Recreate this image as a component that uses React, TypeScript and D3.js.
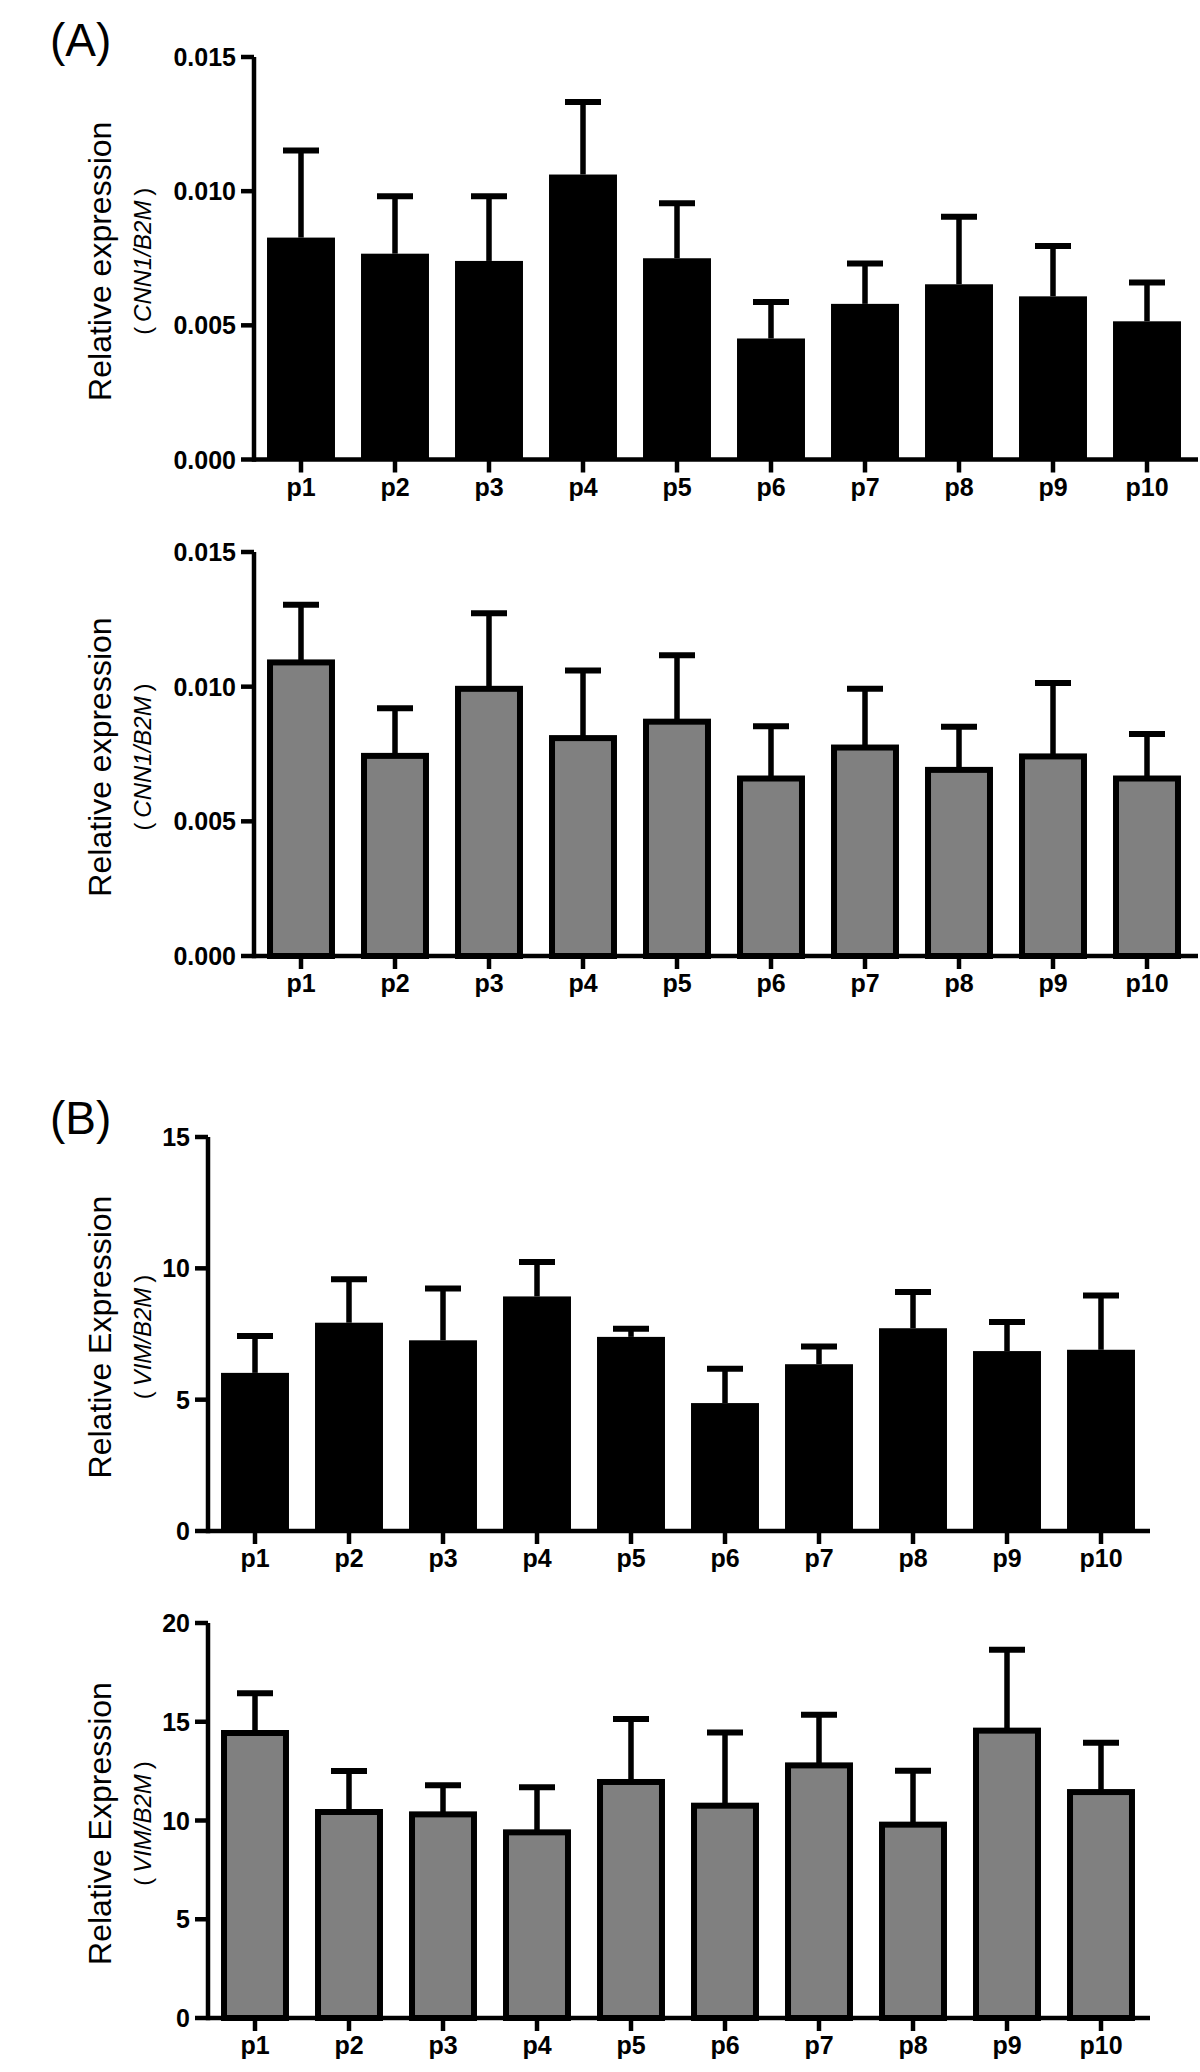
import React from "react";
import * as d3 from "d3";

const categories = ["p1", "p2", "p3", "p4", "p5", "p6", "p7", "p8", "p9", "p10"];

// Panel A, top (black bars): CNN1/B2M
const cnnBlackMean = [0.00827, 0.00767, 0.0074, 0.01062, 0.0075, 0.00451, 0.0058, 0.00653, 0.00608, 0.00515];
const cnnBlackErr = [0.00325, 0.00214, 0.00241, 0.0027, 0.00205, 0.00136, 0.0015, 0.00252, 0.00188, 0.00145];
// Panel A, bottom (grey bars): CNN1/B2M
const cnnGreyMean = [0.0109, 0.00743, 0.00992, 0.00809, 0.0087, 0.00659, 0.00774, 0.00691, 0.00741, 0.00659];
const cnnGreyErr = [0.00214, 0.00177, 0.00281, 0.00251, 0.00247, 0.00194, 0.00218, 0.0016, 0.00273, 0.00165];
// Panel B, top (black bars): VIM/B2M
const vimBlackMean = [6.02, 7.93, 7.26, 8.93, 7.39, 4.87, 6.35, 7.72, 6.85, 6.9];
const vimBlackErr = [1.4, 1.65, 1.97, 1.31, 0.31, 1.31, 0.67, 1.38, 1.11, 2.07];
// Panel B, bottom (grey bars): VIM/B2M
const vimGreyMean = [14.43, 10.43, 10.31, 9.4, 11.95, 10.75, 12.79, 9.79, 14.55, 11.44];
const vimGreyErr = [2.01, 2.08, 1.47, 2.28, 3.19, 3.71, 2.57, 2.73, 4.1, 2.5];

const cnnTicks = [0, 0.005, 0.01, 0.015];
const vimTicksTop = [0, 5, 10, 15];
const vimTicksBottom = [0, 5, 10, 15, 20];

const FONT = "'Liberation Sans', Arial, Helvetica, sans-serif";

type PanelProps = {
  means: number[];
  errs: number[];
  ticks: number[];
  fmt: (v: number) => string;
  axisX: number;
  axisEnd: number;
  yTop: number;
  yZero: number;
  grey: boolean;
  title: string;
  gene: string;
};

function Panel(p: PanelProps) {
  const x = d3
    .scaleBand<string>()
    .domain(categories)
    .range([p.axisX, p.axisX + 940])
    .paddingInner(0.277)
    .paddingOuter(0.1385);
  const yMax = p.ticks[p.ticks.length - 1];
  const y = d3.scaleLinear().domain([0, yMax]).range([p.yZero, p.yTop]);
  const bw = x.bandwidth();
  const capW = 36;
  const lw = 4.5;
  const cy = (p.yZero + p.yTop) / 2 + 3;
  return (
    <g>
      {categories.map((c, i) => {
        const cx = (x(c) as number) + bw / 2;
        const top = y(p.means[i] + p.errs[i]);
        return (
          <g key={"e" + c}>
            <line x1={cx} x2={cx} y1={y(p.means[i])} y2={top} stroke="#000" strokeWidth={5.5} />
            <line x1={cx - capW / 2} x2={cx + capW / 2} y1={top} y2={top} stroke="#000" strokeWidth={6} />
          </g>
        );
      })}
      {categories.map((c, i) => {
        const x0 = x(c) as number;
        if (p.grey) {
          return (
            <rect
              key={"b" + c}
              x={x0 + 3}
              width={bw - 6}
              y={y(p.means[i])}
              height={y(0) - y(p.means[i])}
              fill="#808080"
              stroke="#000"
              strokeWidth={6}
            />
          );
        }
        return (
          <rect key={"b" + c} x={x0} width={bw} y={y(p.means[i])} height={y(0) - y(p.means[i])} fill="#000" />
        );
      })}
      <line x1={p.axisX} x2={p.axisX} y1={p.yZero + lw / 2} y2={p.yTop} stroke="#000" strokeWidth={lw} />
      {p.ticks.map((t) => (
        <g key={"yt" + t}>
          <line x1={p.axisX - 13} x2={p.axisX} y1={y(t)} y2={y(t)} stroke="#000" strokeWidth={lw} />
          <text
            x={p.axisX - 18}
            y={y(t)}
            dy="0.36em"
            textAnchor="end"
            fontFamily={FONT}
            fontWeight="bold"
            fontSize={25}
          >
            {p.fmt(t)}
          </text>
        </g>
      ))}
      <line x1={p.axisX} x2={p.axisEnd} y1={p.yZero} y2={p.yZero} stroke="#000" strokeWidth={lw} />
      {categories.map((c) => {
        const cx = (x(c) as number) + bw / 2;
        return (
          <g key={"xt" + c}>
            <line x1={cx} x2={cx} y1={p.yZero} y2={p.yZero + 13} stroke="#000" strokeWidth={lw} />
            <text
              x={cx}
              y={p.yZero + 36}
              textAnchor="middle"
              fontFamily={FONT}
              fontWeight="bold"
              fontSize={25}
            >
              {c}
            </text>
          </g>
        );
      })}
      <text
        transform={`translate(111,${cy}) rotate(-90)`}
        textAnchor="middle"
        fontFamily={FONT}
        fontSize={32}
      >
        {p.title}
      </text>
      <text
        transform={`translate(151,${cy}) rotate(-90)`}
        textAnchor="middle"
        fontFamily={FONT}
        fontSize={24}
      >
        {"(\u2009"}
        <tspan fontStyle="italic">{p.gene}</tspan>
        {"\u2009)"}
      </text>
    </g>
  );
}

export default function App() {
  const fmtA = d3.format(".3f");
  const fmtB = d3.format("d");
  return (
    <svg
      width={1200}
      height={2072}
      viewBox="0 0 1200 2072"
      style={{ position: "absolute", left: 0, top: 0, background: "#fff" }}
    >
      <rect x={0} y={0} width={1200} height={2072} fill="#fff" />
      <text x={50} y={56} fontFamily={FONT} fontSize={46}>
        (A)
      </text>
      <text x={50} y={1134} fontFamily={FONT} fontSize={46}>
        (B)
      </text>
      <Panel
        means={cnnBlackMean}
        errs={cnnBlackErr}
        ticks={cnnTicks}
        fmt={fmtA}
        axisX={254}
        axisEnd={1198}
        yTop={57}
        yZero={459.5}
        grey={false}
        title="Relative expression"
        gene="CNN1/B2M"
      />
      <Panel
        means={cnnGreyMean}
        errs={cnnGreyErr}
        ticks={cnnTicks}
        fmt={fmtA}
        axisX={254}
        axisEnd={1198}
        yTop={552}
        yZero={956}
        grey={true}
        title="Relative expression"
        gene="CNN1/B2M"
      />
      <Panel
        means={vimBlackMean}
        errs={vimBlackErr}
        ticks={vimTicksTop}
        fmt={fmtB}
        axisX={208}
        axisEnd={1150}
        yTop={1137}
        yZero={1531}
        grey={false}
        title="Relative Expression"
        gene="VIM/B2M"
      />
      <Panel
        means={vimGreyMean}
        errs={vimGreyErr}
        ticks={vimTicksBottom}
        fmt={fmtB}
        axisX={208}
        axisEnd={1150}
        yTop={1623}
        yZero={2018}
        grey={true}
        title="Relative Expression"
        gene="VIM/B2M"
      />
    </svg>
  );
}
